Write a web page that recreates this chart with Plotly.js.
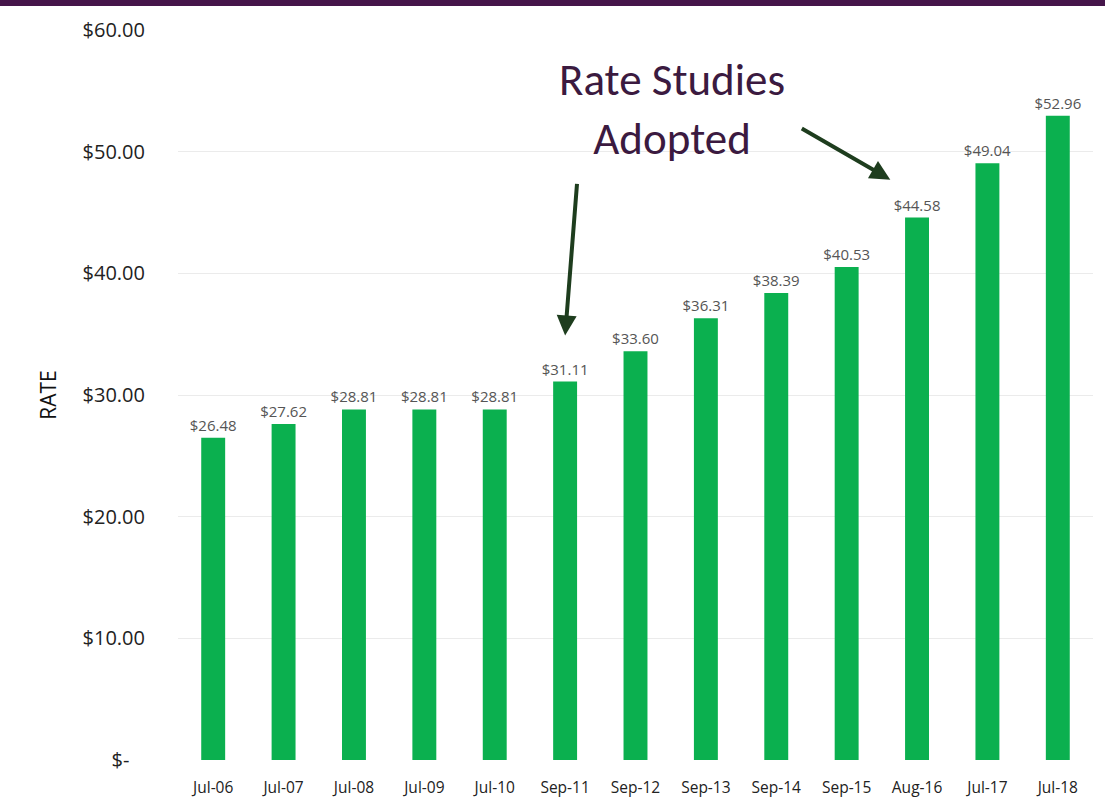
<!DOCTYPE html>
<html><head><meta charset="utf-8">
<script src="https://cdn.plot.ly/plotly-3.0.1.min.js"></script>
<style>html,body{margin:0;padding:0;background:#fff;}#chart{width:1105px;height:803px;}</style>
</head><body><div id="chart"></div>
<script>
const categories = ["Jul-06","Jul-07","Jul-08","Jul-09","Jul-10","Sep-11","Sep-12","Sep-13","Sep-14","Sep-15","Aug-16","Jul-17","Jul-18"];
const rates = [26.48,27.62,28.81,28.81,28.81,31.11,33.60,36.31,38.39,40.53,44.58,49.04,52.96];
const tickVals = [0,10,20,30,40,50,60];
const tickText = ["$-\u00A0\u00A0\u00A0","$10.00","$20.00","$30.00","$40.00","$50.00","$60.00"];

const L=178,R=12,T=30,B=43,W=1105,H=803;
const pw=W-L-R, ph=H-T-B;

const trace = {
  type:'bar', x:categories, y:rates,
  marker:{color:'#0bb04f'},
  text: rates.map(v=>'$'+v.toFixed(2)),
  textposition:'outside', cliponaxis:false, constraintext:'none',
  textfont:{family:'Open Sans, sans-serif', size:15, color:'#555'},
  hoverinfo:'none'
};

const layout = {
  width:W, height:H,
  margin:{l:L,r:R,t:T,b:B},
  paper_bgcolor:'#fff', plot_bgcolor:'#fff',
  bargap:0.66,
  showlegend:false,
  xaxis:{type:'category', tickfont:{family:'Open Sans, sans-serif', size:15.5, color:'#222'},
         showgrid:false, showline:false, ticks:'', ticklen:0, ticklabelstandoff:16},
  yaxis:{range:[0,60], tickvals:tickVals, ticktext:tickText, showgrid:true, gridcolor:'#ebebeb',
         zeroline:false, ticks:'', ticklabelstandoff:32,
         tickfont:{family:'Open Sans, sans-serif', size:20, color:'#222'},
         title:{text:'RATE', font:{family:'Open Sans, sans-serif', size:21, color:'#111'}, standoff:20}},
  shapes:[
    {type:'rect', xref:'paper', yref:'paper', x0:-L/pw, x1:1+R/pw, y0:1+(T-6)/ph, y1:1+T/ph,
     fillcolor:'#45154a', line:{width:0}, layer:'above'}
  ],
  annotations:[
    {xref:'x', yref:'y', x:6.52, y:53.5, text:'Rate Studies<br>Adopted', showarrow:false,
     font:{family:'Calibri, Carlito, Open Sans, sans-serif', size:45, color:'#3b1a40'}, align:'center'},
    {xref:'x', yref:'y', x:5, y:34.9, ax:12, ay:-153, text:'', showarrow:true,
     arrowhead:2, arrowsize:1, arrowwidth:4, arrowcolor:'#1e3d1e'},
    {xref:'x', yref:'y', x:9.62, y:47.7, ax:-90, ay:-52, text:'', showarrow:true,
     arrowhead:2, arrowsize:1, arrowwidth:4, arrowcolor:'#1e3d1e'}
  ]
};
Plotly.newPlot('chart',[trace],layout,{displayModeBar:false, staticPlot:true});
</script></body></html>
